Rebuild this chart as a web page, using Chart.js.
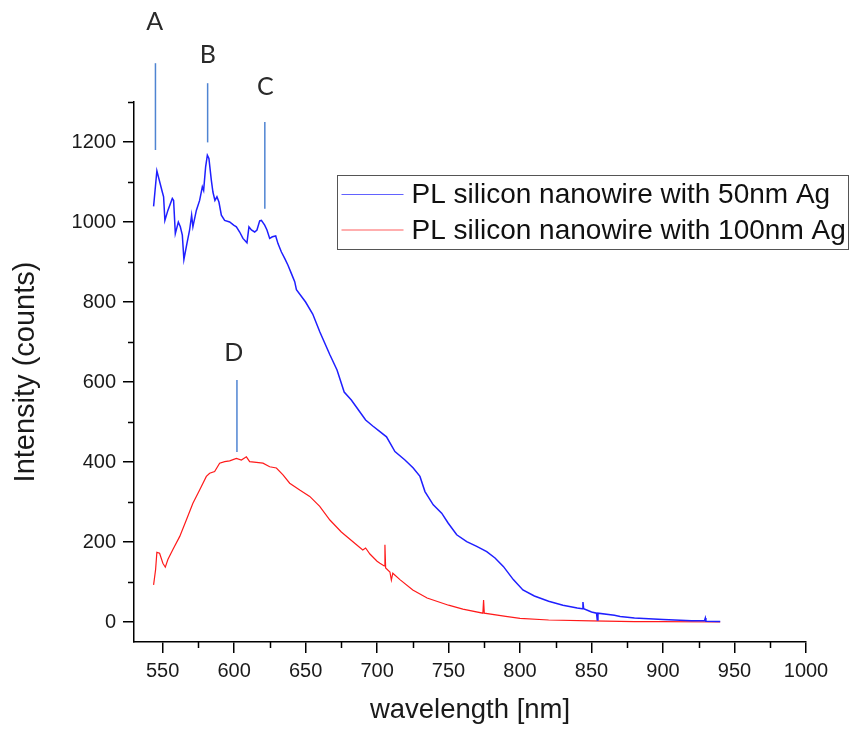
<!DOCTYPE html>
<html>
<head>
<meta charset="utf-8">
<script src="https://cdn.jsdelivr.net/npm/chart.js@4/dist/chart.umd.min.js"></script>
<style>
html,body{margin:0;padding:0;background:#fff;}
#wrap{width:851px;height:729px;}
</style>
</head>
<body>
<div id="wrap"><canvas id="c" width="851" height="729"></canvas></div>
<script>
// ---- data ----
const seriesLabels = ['PL silicon nanowire with 50nm Ag', 'PL silicon nanowire with 100nm Ag'];

const blueWavelength = [543.7,546,549.8,550.7,551.6,553.7,556.8,557.7,558.9,561,562.4,563.8,564.9,567,568.9,570.3,571.2,573.6,575.9,577.8,578.7,580.1,581.3,582.4,584.1,585.2,586.6,588,589.4,591.1,593.4,596.9,599.7,601.6,603.9,606.2,609,610.4,612.1,614.4,616,617.9,619.1,621.4,623,624.9,626.8,629.1,630.7,633.1,635.4,637.7,640.1,642.4,643.6,650,655,660,667,672,677,682,687,692,697,702,706.6,712.5,719.5,725.3,730,733.5,739.3,745.2,749.8,755.7,762.7,769.7,776.7,782.5,788.3,795.3,802,810,820,830,840,843.5,844,844.5,850,853.5,854,854.5,866,870,880,900,920,929,929.6,930,940];
const blueIntensity  = [1039,1128,1075,1063,1004,1029,1059,1054,971,1000,988,967,906,946,980,1017,988,1029,1054,1088,1079,1138,1167,1159,1104,1075,1054,1063,1050,1017,1004,1000,992,988,975,959,948,988,980,975,980,1003,1004,992,980,959,963,965,946,925,909,892,871,851,831,800,770,725,668,630,575,555,530,505,490,476,463,426,405,385,364,326,293,272,247,218,201,189,176,160,139,106,80,65,52,42,35,33,50,33,25,22,5,22,17,14,10,6,3,3,10,2,1];

const redWavelength = [543.7,545.1,546,547.9,550.2,551.9,553.7,557.2,562,566.6,571.2,575.9,580.6,582.9,586.4,589.9,593.4,596.9,601.6,605.1,608.6,610.9,615.6,620.2,624.9,629.6,634.2,638.9,645.9,652.9,659.9,667,675,685,690,692,695,700,702,705,705.5,706,709,710,711,716,725,735,750,760,774,774.5,775,790,800,820,850,880,900,940];
const redIntensity  = [93,131,174,172,147,137,156,181,214,255,297,330,364,372,376,397,401,403,409,405,413,401,399,397,388,385,368,347,330,314,289,255,225,195,180,185,170,152,147,140,193,135,125,105,122,106,80,60,42,32,22,55,22,14,9,5,3,1,1,0];

const xMajorTicks = [550,600,650,700,750,800,850,900,950,1000];
const xMinorTicks = [575,625,675,725,775,825,875,925,975];
const yMajorTicks = [0,200,400,600,800,1000,1200];
const yMinorTicks = [100,300,500,700,900,1100,1300];

const peakLabels = ['A','B','C','D'];
const peakWavelength = [545,581.5,621.5,602];
const peakLineTop    = [1397,1347,1250,605];
const peakLineBottom = [1180,1199,1033,425];
const peakTextX      = [544.4,581.7,621.9,599.7];
const peakTextY      = [1500,1417,1337,673];

const colors = ['#1f1fff', '#ff1a1a'];

// ---- plugins ----
const minorTicks = {
  id: 'minorTicks',
  afterDraw(chart) {
    const ctx = chart.ctx, xs = chart.scales.x, ys = chart.scales.y;
    const ca = chart.chartArea;
    ctx.save();
    ctx.strokeStyle = '#000';
    ctx.lineWidth = 1.5;
    ctx.beginPath();
    xMinorTicks.forEach(v => {
      const px = Math.round(xs.getPixelForValue(v)) + 0.5;
      ctx.moveTo(px, ca.bottom); ctx.lineTo(px, ca.bottom + 6);
    });
    yMinorTicks.forEach(v => {
      const py = Math.round(ys.getPixelForValue(v)) + 0.5;
      ctx.moveTo(ca.left, py); ctx.lineTo(ca.left - 6, py);
    });
    ctx.stroke();
    ctx.restore();
  }
};

const peakMarks = {
  id: 'peakMarks',
  afterDraw(chart) {
    const ctx = chart.ctx, xs = chart.scales.x, ys = chart.scales.y;
    ctx.save();
    ctx.strokeStyle = '#4f84d2';
    ctx.lineWidth = 1.5;
    peakLabels.forEach((lab, i) => {
      const px = xs.getPixelForValue(peakWavelength[i]);
      ctx.beginPath();
      ctx.moveTo(px, ys.getPixelForValue(peakLineTop[i]));
      ctx.lineTo(px, ys.getPixelForValue(peakLineBottom[i]));
      ctx.stroke();
      ctx.fillStyle = '#2a2a2a';
      ctx.font = '25px Lato, "Open Sans", sans-serif';
      ctx.textAlign = 'center';
      ctx.textBaseline = 'middle';
      ctx.fillText(lab, xs.getPixelForValue(peakTextX[i]), ys.getPixelForValue(peakTextY[i]));
    });
    ctx.restore();
  }
};

const boxLegend = {
  id: 'boxLegend',
  afterDraw(chart) {
    const ctx = chart.ctx;
    const bx = 337.5, by = 175.5, bw = 511, bh = 74;
    ctx.save();
    ctx.fillStyle = '#fff';
    ctx.fillRect(bx, by, bw, bh);
    ctx.strokeStyle = '#555';
    ctx.lineWidth = 1;
    ctx.strokeRect(bx, by, bw, bh);
    ctx.font = '28px "Liberation Sans", Arial, sans-serif';
    ctx.textBaseline = 'middle';
    ctx.textAlign = 'left';
    chart.data.datasets.forEach((ds, i) => {
      const cy = by + 19 + i * 35.5;
      ctx.strokeStyle = ds.borderColor;
      ctx.globalAlpha = 0.7;
      ctx.lineWidth = 1.2;
      ctx.beginPath();
      ctx.moveTo(bx + 4, cy); ctx.lineTo(bx + 66, cy);
      ctx.stroke();
      ctx.globalAlpha = 1;
      ctx.fillStyle = '#111';
      ctx.fillText(ds.label, bx + 74, cy + 1);
    });
    ctx.restore();
  }
};

const tickFont = { family: '"Liberation Sans", Arial, sans-serif', size: 20 };
const plainLabel = v => String(v);

new Chart(document.getElementById('c'), {
  type: 'line',
  data: {
    datasets: [
      { label: seriesLabels[0], data: blueWavelength.map((x, i) => ({ x, y: blueIntensity[i] })),
        borderColor: colors[0], borderWidth: 1.5, pointRadius: 0, tension: 0, fill: false },
      { label: seriesLabels[1], data: redWavelength.map((x, i) => ({ x, y: redIntensity[i] })),
        borderColor: colors[1], borderWidth: 1.2, pointRadius: 0, tension: 0, fill: false }
    ]
  },
  options: {
    responsive: false,
    animation: false,
    devicePixelRatio: 1,
    layout: { padding: { top: 102, right: 45, left: 0, bottom: 0 } },
    plugins: { legend: { display: false }, tooltip: { enabled: false } },
    scales: {
      x: {
        type: 'linear', min: 530, max: 1000,
        afterBuildTicks: s => { s.ticks = xMajorTicks.map(v => ({ value: v })); },
        afterFit: s => { s.height = 87; },
        grid: { display: true, drawOnChartArea: false, drawTicks: true, tickLength: 11, color: '#000', lineWidth: 1.5 },
        border: { display: true, color: '#000', width: 1.5 },
        ticks: { font: tickFont, color: '#1a1a1a', padding: 6, maxRotation: 0, autoSkip: false, callback: plainLabel },
        title: { display: true, text: 'wavelength [nm]', color: '#1a1a1a',
          font: { family: '"Liberation Sans", Arial, sans-serif', size: 27.5 }, padding: { top: 0, bottom: 2 } }
      },
      y: {
        type: 'linear', min: -50, max: 1300,
        afterBuildTicks: s => { s.ticks = yMajorTicks.map(v => ({ value: v })); },
        afterFit: s => { s.width = 134; },
        grid: { display: true, drawOnChartArea: false, drawTicks: true, tickLength: 11, color: '#000', lineWidth: 1.5 },
        border: { display: true, color: '#000', width: 1.5 },
        ticks: { font: tickFont, color: '#1a1a1a', padding: 7, autoSkip: false, callback: plainLabel },
        title: { display: true, text: 'Intensity (counts)', color: '#1a1a1a',
          font: { family: '"Liberation Sans", Arial, sans-serif', size: 29 }, padding: { top: 9, bottom: 0 } }
      }
    }
  },
  plugins: [minorTicks, peakMarks, boxLegend]
});
</script>
</body>
</html>
